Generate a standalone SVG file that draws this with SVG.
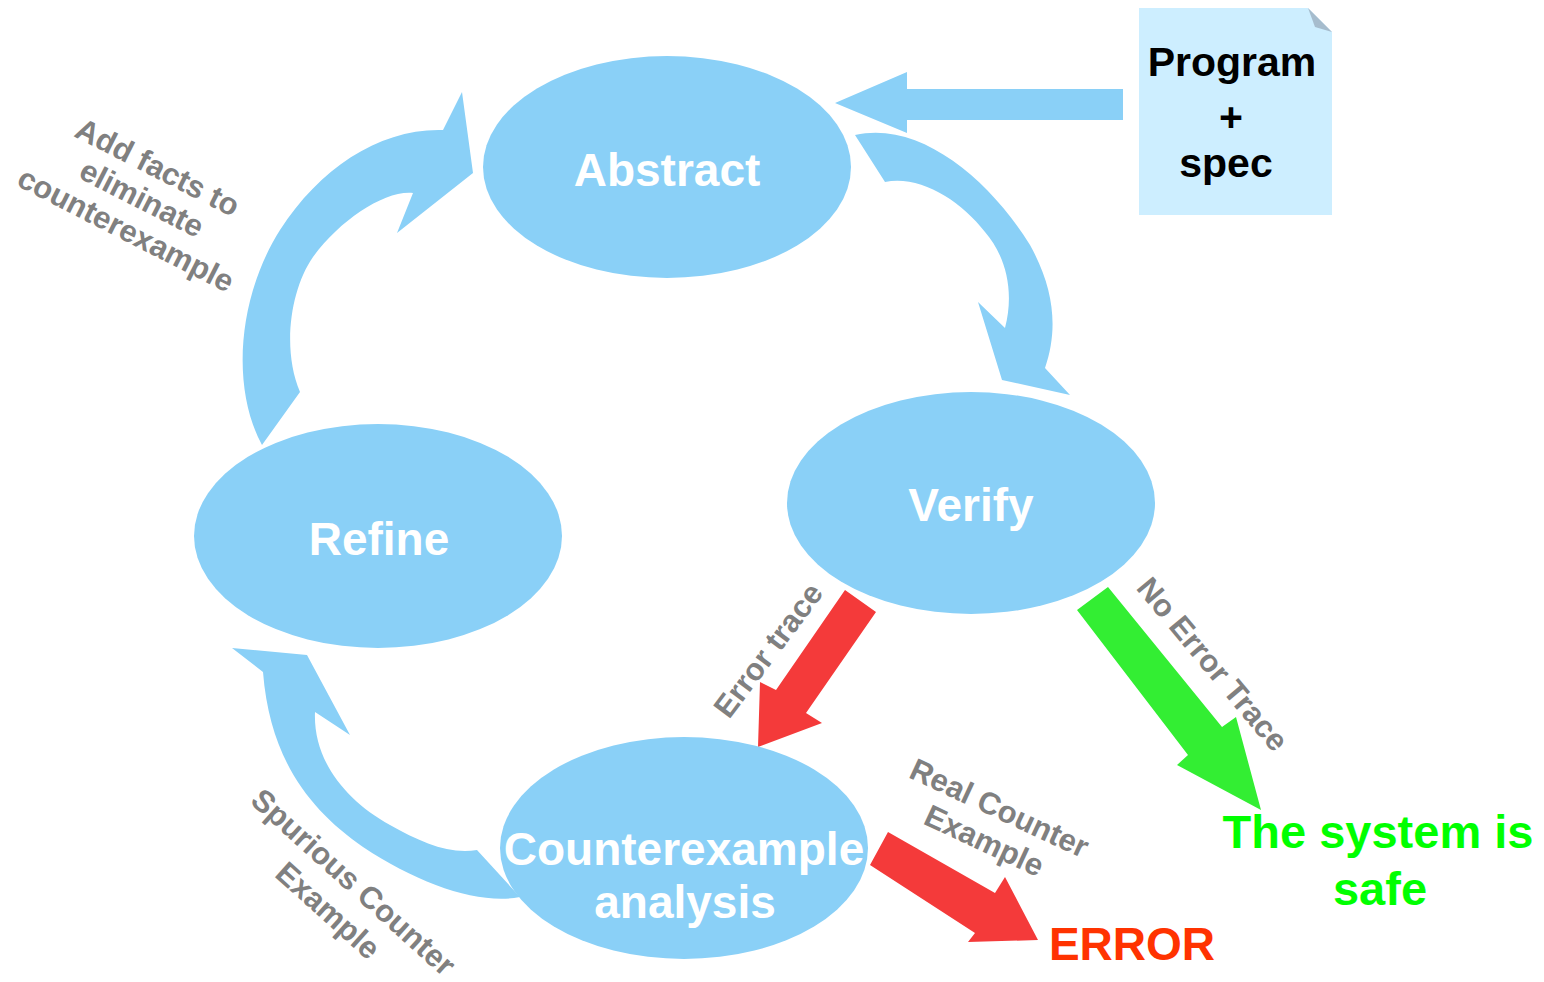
<svg xmlns="http://www.w3.org/2000/svg" width="1544" height="982" viewBox="0 0 1544 982">
  <style>
    .node { fill: #8ad0f7; }
    .flow { fill: #8ad0f7; }
    .err { fill: #f43a3a; }
    .ok { fill: #33ee33; }
    .lbl { font-family: "Liberation Sans", Arial, sans-serif; font-weight: bold; text-anchor: middle; }
    .white { fill: #ffffff; font-size: 46px; }
    .note { fill: #808080; font-size: 31px; }
  </style>

  <!-- connectors -->
  <g id="connectors">
    <!-- input arrow into Abstract -->
    <path class="flow" d="M1123,89 L907,89 L907,72 L835,103 L907,133 L907,120 L1123,120 Z"/>
    <!-- Refine to Abstract -->
    <path class="flow" d="M262,445 C232,390 236,300 280,230 C320,168 380,128 443,130 L462,92 L473,173 L397,233 L413,193 C385,190 340,220 313,257 C290,290 282,350 300,392 Z"/>
    <!-- Abstract to Verify -->
    <path class="flow" d="M855,135 C920,120 990,180 1030,245 C1055,290 1058,330 1045,368 L1070,395 L1002,380 L978,302 L1005,328 C1015,290 1005,255 985,232 C960,200 920,175 885,182 Z"/>
    <!-- Counterexample analysis to Refine -->
    <path class="flow" d="M232,648 L307,655 L350,735 L315,712 C313,760 345,800 390,825 C420,842 450,855 477,850 L520,897 C480,905 420,885 363,847 C310,810 270,760 263,672 Z"/>
    <!-- Verify to Counterexample analysis -->
    <path class="err" d="M845,590 L876,612 L806,713 L822,723 L758,747 L760,682 L776,690 Z"/>
    <!-- Verify to safe -->
    <path class="ok" d="M1077,610 L1108,587 L1222,727 L1236,717 L1261,810 L1177,765 L1188,755 Z"/>
    <!-- Counterexample analysis to ERROR -->
    <path class="err" d="M888,832 L870,865 L975,933 L968,942 L1038,940 L1005,877 L995,893 Z"/>

    <g class="lbl note">
      <g transform="translate(142,198) rotate(27)">
        <text x="0" y="-24">Add facts to</text>
        <text x="0" y="11">eliminate</text>
        <text x="0" y="46">counterexample</text>
      </g>
      <g transform="translate(341,896) rotate(42)">
        <text x="0" y="-8">Spurious Counter</text>
        <text x="0" y="30">Example</text>
      </g>
      <text transform="translate(768,650) rotate(-53)" x="0" y="11">Error trace</text>
      <text transform="translate(1213,664) rotate(50)" x="0" y="11">No Error Trace</text>
      <g transform="translate(992,824) rotate(25)">
        <text x="0" y="-7">Real Counter</text>
        <text x="0" y="29">Example</text>
      </g>
    </g>
  </g>

  <!-- input document -->
  <g id="program-spec">
    <path d="M1139,8 L1308,8 L1332,32 L1332,215 L1139,215 Z" fill="#cdeeff"/>
    <path d="M1308,8 L1332,32 L1315,27 Z" fill="#a6bccd"/>
    <g class="lbl" fill="#000000" font-size="41">
      <text x="1232" y="76">Program</text>
      <text x="1231" y="131">+</text>
      <text x="1226" y="177">spec</text>
    </g>
  </g>

  <g id="abstract">
    <ellipse class="node" cx="667" cy="167" rx="184" ry="111"/>
    <text class="lbl white" x="667" y="186">Abstract</text>
  </g>

  <g id="verify">
    <ellipse class="node" cx="971" cy="503" rx="184" ry="111"/>
    <text class="lbl white" x="971" y="521">Verify</text>
  </g>

  <g id="refine">
    <ellipse class="node" cx="378" cy="536" rx="184" ry="112"/>
    <text class="lbl white" x="379" y="555">Refine</text>
  </g>

  <g id="counterexample-analysis">
    <ellipse class="node" cx="684" cy="848" rx="184" ry="111"/>
    <text class="lbl white" x="684" y="865" font-size="44">Counterexample</text>
    <text class="lbl white" x="685" y="918" font-size="44">analysis</text>
  </g>

  <g id="error">
    <text class="lbl" x="1132" y="960" font-size="46" fill="#ff3300">ERROR</text>
  </g>

  <g id="safe">
    <text class="lbl" x="1378" y="848" font-size="47" fill="#00ff00">The system is</text>
    <text class="lbl" x="1380" y="905" font-size="47" fill="#00ff00">safe</text>
  </g>
</svg>
